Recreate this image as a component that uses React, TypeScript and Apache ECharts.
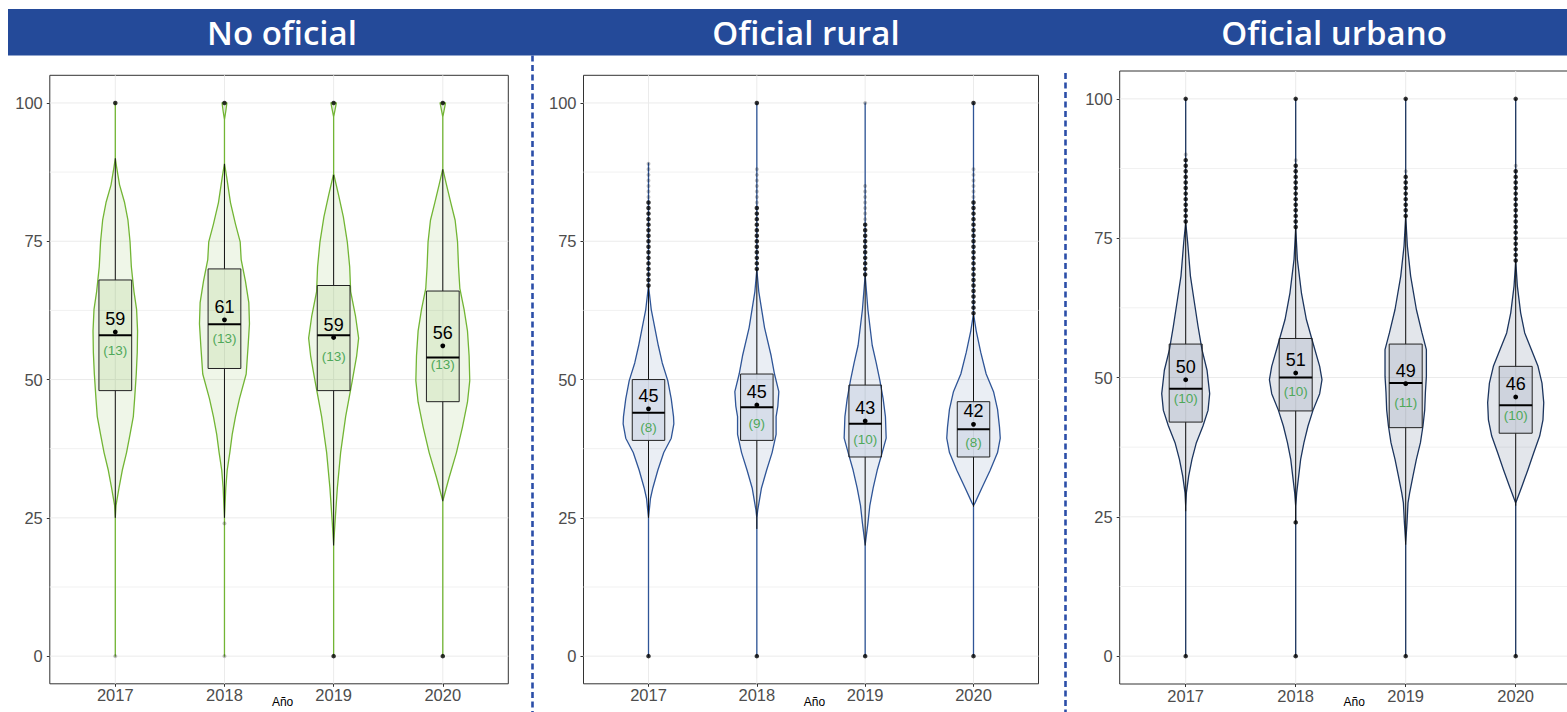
import React, { useEffect, useRef } from "react";
import * as echarts from "echarts";

const years = ["2017", "2018", "2019", "2020"];
const panelTitles = ["No oficial", "Oficial rural", "Oficial urbano"];
const yTicks = [0, 25, 50, 75, 100];
const yMinorTicks = [12.5, 37.5, 62.5, 87.5];
const xAxisTitle = "Año";

// ---------- No oficial ----------
// [bigote inferior, Q1, mediana, Q3, bigote superior]
const noOficialBox = [
  [25, 48, 58, 68, 90],
  [25, 52, 60, 70, 89],
  [20, 48, 58, 67, 87],
  [28, 46, 54, 66, 88],
];
const noOficialMean = [58.6, 60.8, 57.6, 56.1];
const noOficialMeanLabel = ["59", "61", "59", "56"];
const noOficialSdLabel = ["(13)", "(13)", "(13)", "(13)"];
const noOficialPoints = [[100], [100], [100, 0], [100, 0]];
const noOficialFaintPoints = [[0], [24, 0], [], []];
// violin profile: [valor, semiancho (en unidades de categoría)]
const noOficialViolin2017 = [[100, 0], [90, 0], [88.4, 0.012], [85.2, 0.039], [82, 0.085], [78.8, 0.116], [74.9, 0.135], [70.4, 0.147], [65.9, 0.171], [62.7, 0.195], [58.8, 0.204], [54.9, 0.201], [51, 0.192], [46.5, 0.177], [43.3, 0.165], [40.1, 0.135], [36.8, 0.103], [33.6, 0.064], [30.4, 0.034], [27.2, 0.006], [25, 0], [0, 0]];
const noOficialViolin2018 = [[100, 0.022], [98.5, 0.012], [97, 0], [89.1, 0], [86.5, 0.021], [82, 0.055], [78.1, 0.101], [74.9, 0.144], [71.7, 0.153], [67.8, 0.192], [63.9, 0.223], [60.1, 0.229], [56.2, 0.217], [51, 0.199], [46.5, 0.137], [43.3, 0.101], [40.1, 0.071], [36.8, 0.049], [33.6, 0.025], [30.4, 0.012], [25, 0], [0, 0]];
const noOficialViolin2019 = [[100, 0.025], [98.5, 0.01], [97.5, 0], [87.2, 0], [83.3, 0.046], [79.4, 0.089], [74.9, 0.125], [70.4, 0.147], [65.9, 0.156], [61.4, 0.201], [57.5, 0.229], [54.3, 0.211], [49.8, 0.171], [43.3, 0.11], [36.8, 0.064], [30.4, 0.034], [24, 0.012], [20.1, 0], [0, 0]];
const noOficialViolin2020 = [[100, 0.025], [98.5, 0.01], [97.5, 0], [88.1, 0], [85.2, 0.034], [82, 0.073], [78.8, 0.113], [74.9, 0.135], [70.4, 0.144], [66.5, 0.156], [62.7, 0.195], [58.8, 0.226], [54.3, 0.241], [49.8, 0.247], [45.9, 0.226], [41.4, 0.18], [36.8, 0.125], [32.3, 0.058], [28.5, 0.006], [28.1, 0], [0, 0]];

// ---------- Oficial rural ----------
const ruralBox = [
  [25, 39, 44, 50, 67],
  [23, 39, 45, 51, 70],
  [20, 36, 42, 49, 69],
  [27, 36, 41, 46, 62],
];
const ruralMean = [44.7, 45.4, 42.5, 41.9];
const ruralMeanLabel = ["45", "45", "43", "42"];
const ruralSdLabel = ["(8)", "(9)", "(10)", "(8)"];
const ruralPoints = [
  [67, 68, 69, 70, 71, 72, 73, 74, 75, 76, 77, 78, 79, 80, 81, 82, 0],
  [70, 71, 72, 73, 74, 75, 76, 77, 78, 79, 80, 81, 100, 0],
  [69, 70, 71, 72, 73, 74, 75, 76, 77, 78, 0],
  [62, 63, 64, 65, 66, 67, 68, 69, 70, 71, 72, 73, 74, 75, 76, 77, 78, 79, 80, 81, 82, 100, 0],
];
const ruralFaintPoints = [
  [83, 84, 85, 86, 87, 88, 89],
  [82, 83, 84, 85, 86, 87, 88],
  [79, 80, 81, 82, 83, 84, 85, 100],
  [83, 84, 85, 86, 87, 88],
];
const ruralViolin2017 = [[89.1, 0], [67, 0], [62.7, 0.025], [56.2, 0.09], [53, 0.127], [49.8, 0.178], [46.5, 0.21], [43.3, 0.231], [42, 0.234], [39.4, 0.21], [36.8, 0.141], [33.6, 0.086], [30.4, 0.04], [28.5, 0.018], [25, 0], [0, 0]];
const ruralViolin2018 = [[100, 0], [69.9, 0], [65.9, 0.018], [59.4, 0.071], [54.3, 0.132], [51, 0.163], [47.8, 0.203], [45.2, 0.194], [43.3, 0.178], [40.1, 0.178], [36.8, 0.141], [33.6, 0.09], [30.4, 0.043], [26.5, 0.009], [25, 0], [0, 0]];
const ruralViolin2019 = [[100, 0], [68.9, 0], [62.7, 0.025], [56.2, 0.065], [53, 0.102], [49.8, 0.136], [46.5, 0.166], [43.3, 0.187], [39.4, 0.194], [36.8, 0.157], [33.6, 0.111], [30.4, 0.074], [27.2, 0.043], [24, 0.025], [20.1, 0], [0, 0]];
const ruralViolin2020 = [[100, 0], [61.9, 0], [58.8, 0.025], [54.9, 0.067], [51, 0.117], [47.8, 0.185], [44.6, 0.222], [41.4, 0.24], [39.4, 0.247], [36.8, 0.222], [33.6, 0.154], [30.4, 0.077], [27.8, 0.016], [27.2, 0], [0, 0]];

// ---------- Oficial urbano ----------
const urbanoBox = [
  [26, 42, 48, 56, 78],
  [24, 44, 50, 57, 77],
  [20, 41, 49, 56, 79],
  [27, 40, 45, 52, 71],
];
const urbanoMean = [49.6, 50.8, 48.9, 46.5];
const urbanoMeanLabel = ["50", "51", "49", "46"];
const urbanoSdLabel = ["(10)", "(10)", "(11)", "(10)"];
const urbanoPoints = [
  [78, 79, 80, 81, 82, 83, 84, 85, 86, 87, 88, 89, 100, 0],
  [77, 78, 79, 80, 81, 82, 83, 84, 85, 86, 87, 88, 100, 24, 0],
  [79, 80, 81, 82, 83, 84, 85, 86, 100, 0],
  [71, 72, 73, 74, 75, 76, 77, 78, 79, 80, 81, 82, 83, 84, 85, 86, 87, 100, 0],
];
const urbanoFaintPoints = [[90], [89], [87], [88]];
const urbanoViolin2017 = [[100, 0], [77.9, 0], [74.2, 0.018], [68.2, 0.043], [64, 0.075], [59.2, 0.112], [55, 0.148], [51.3, 0.194], [47.1, 0.218], [44.1, 0.203], [41.3, 0.157], [38.3, 0.097], [35.3, 0.057], [32.3, 0.027], [29.3, 0.006], [26.9, 0], [0, 0]];
const urbanoViolin2018 = [[100, 0], [76.9, 0], [71.2, 0.015], [65.2, 0.052], [60.4, 0.097], [56.2, 0.157], [52, 0.218], [49.6, 0.239], [47.1, 0.218], [44.1, 0.157], [41.3, 0.112], [38.3, 0.075], [35.3, 0.045], [32.3, 0.027], [29.3, 0.009], [26.9, 0], [0, 0]];
const urbanoViolin2019 = [[100, 0], [79, 0], [73.6, 0.015], [68.2, 0.045], [62.2, 0.097], [58, 0.148], [55, 0.188], [50.2, 0.188], [47.3, 0.179], [44.2, 0.173], [41.3, 0.157], [38.3, 0.134], [35.3, 0.097], [32.3, 0.066], [29.3, 0.036], [27.5, 0.021], [24, 0.012], [20.3, 0], [0, 0]];
const urbanoViolin2020 = [[100, 0], [71, 0], [66.4, 0.015], [61.6, 0.045], [58, 0.082], [55, 0.143], [52, 0.203], [49, 0.239], [45.5, 0.255], [42.4, 0.248], [39.5, 0.218], [36.5, 0.164], [33.5, 0.112], [30.5, 0.057], [28.1, 0.012], [27.5, 0], [0, 0]];

// ---------- styles / layout ----------
const FONT = "'Liberation Sans', Arial, sans-serif";
const panels = [
  {
    violins: [noOficialViolin2017, noOficialViolin2018, noOficialViolin2019, noOficialViolin2020],
    box: noOficialBox, mean: noOficialMean, meanLabel: noOficialMeanLabel, sdLabel: noOficialSdLabel,
    points: noOficialPoints, faint: noOficialFaintPoints,
    stroke: "#72B534", violinFill: "rgba(107,175,47,0.11)", boxFill: "rgba(107,175,47,0.12)",
    grid: { left: 49.8, top: 75.3, width: 458.5, height: 608.5 },
    titleX: 282,
  },
  {
    violins: [ruralViolin2017, ruralViolin2018, ruralViolin2019, ruralViolin2020],
    box: ruralBox, mean: ruralMean, meanLabel: ruralMeanLabel, sdLabel: ruralSdLabel,
    points: ruralPoints, faint: ruralFaintPoints,
    stroke: "#2F5597", violinFill: "rgba(47,85,151,0.1)", boxFill: "rgba(47,85,151,0.1)",
    grid: { left: 583.5, top: 75.3, width: 455, height: 608.5 },
    titleX: 806,
  },
  {
    violins: [urbanoViolin2017, urbanoViolin2018, urbanoViolin2019, urbanoViolin2020],
    box: urbanoBox, mean: urbanoMean, meanLabel: urbanoMeanLabel, sdLabel: urbanoSdLabel,
    points: urbanoPoints, faint: urbanoFaintPoints,
    stroke: "#1C355E", violinFill: "rgba(28,53,94,0.12)", boxFill: "rgba(28,53,94,0.1)",
    grid: { left: 1119.7, top: 71, width: 462, height: 613 },
    titleX: 1334,
  },
];

const X_MIN = -0.6;
const X_MAX = 3.6;

function buildOption() {
  const grid: any[] = [];
  const xAxis: any[] = [];
  const yAxis: any[] = [];
  const series: any[] = [];

  panels.forEach((p, k) => {
    grid.push({ ...p.grid, show: true, borderColor: "#333333", borderWidth: 1, backgroundColor: "transparent", containLabel: false, outerBoundsMode: "none" });
    xAxis.push({
      type: "value", gridIndex: k, min: X_MIN, max: X_MAX, position: "bottom",
      axisLine: { show: false, onZero: false },
      axisTick: { show: true, customValues: years.map((_, i) => i), length: 3, lineStyle: { color: "#333333" } },
      axisLabel: { customValues: years.map((_, i) => i), formatter: (v: number) => years[Math.round(v)], color: "#4D4D4D", fontSize: 16.5, fontFamily: FONT, margin: 3 },
      splitLine: { show: false },
      name: xAxisTitle, nameLocation: "middle", nameGap: 12, nameMoveOverlap: false,
      nameTextStyle: { fontSize: 12, color: "#000000", fontFamily: FONT, verticalAlign: "top", padding: [0, 0, 0, 7] },
    });
    yAxis.push({
      type: "value", gridIndex: k, min: -5, max: 105, position: "left",
      axisLine: { show: false, onZero: false },
      axisTick: { show: true, customValues: yTicks, length: 3, lineStyle: { color: "#333333" } },
      axisLabel: { customValues: yTicks, color: "#4D4D4D", fontSize: 16.5, fontFamily: FONT, margin: 7 },
      splitLine: { show: false },
    });

    // grid lines (major + minor horizontal, vertical per category)
    const gridLines: any[] = [
      ...yMinorTicks.map((v) => ({ value: [0, v], kind: "hMinor" })),
      ...yTicks.map((v) => ({ value: [0, v], kind: "h" })),
      ...years.map((_, i) => ({ value: [i, 0], kind: "v" })),
    ];
    series.push({
      type: "custom", xAxisIndex: k, yAxisIndex: k, z: 1, silent: true,
      data: gridLines.map((g) => g.value),
      renderItem: (params: any, api: any) => {
        const g = gridLines[params.dataIndex];
        if (g.kind === "v") {
          const a = api.coord([g.value[0], -5]);
          const b = api.coord([g.value[0], 105]);
          return { type: "line", shape: { x1: a[0], y1: a[1], x2: b[0], y2: b[1] }, style: { stroke: "#EBEBEB", lineWidth: 1 } };
        }
        const a = api.coord([X_MIN, g.value[1]]);
        const b = api.coord([X_MAX, g.value[1]]);
        return { type: "line", shape: { x1: a[0], y1: a[1], x2: b[0], y2: b[1] }, style: { stroke: g.kind === "h" ? "#EBEBEB" : "#F1F1F1", lineWidth: 1 } };
      },
    });

    // violins
    series.push({
      type: "custom", xAxisIndex: k, yAxisIndex: k, z: 2, silent: true,
      data: years.map((_, i) => [i, 50]),
      renderItem: (params: any, api: any) => {
        const i = params.dataIndex;
        const prof = p.violins[i];
        const right = prof.map(([v, w]) => api.coord([i + w, v]));
        const left = prof.slice().reverse().map(([v, w]) => api.coord([i - w, v]));
        return { type: "polygon", shape: { points: right.concat(left) }, style: { fill: p.violinFill, stroke: p.stroke, lineWidth: 1.3, lineJoin: "round" } };
      },
    });

    // boxes + whiskers
    series.push({
      type: "custom", xAxisIndex: k, yAxisIndex: k, z: 3, silent: true,
      data: years.map((_, i) => [i, p.box[i][2]]),
      renderItem: (params: any, api: any) => {
        const i = params.dataIndex;
        const [lo, q1, med, q3, hi] = p.box[i];
        const hw = 0.15;
        const tl = api.coord([i - hw, q3]);
        const br = api.coord([i + hw, q1]);
        const x = api.coord([i, 0])[0];
        const yLo = api.coord([i, lo])[1];
        const yHi = api.coord([i, hi])[1];
        const yQ1 = br[1];
        const yQ3 = tl[1];
        const yMed = api.coord([i, med])[1];
        return {
          type: "group",
          children: [
            { type: "line", shape: { x1: x, y1: yHi, x2: x, y2: yQ3 }, style: { stroke: "#111111", lineWidth: 1, lineCap: "butt" } },
            { type: "line", shape: { x1: x, y1: yQ1, x2: x, y2: yLo }, style: { stroke: "#111111", lineWidth: 1, lineCap: "butt" } },
            { type: "rect", shape: { x: tl[0], y: tl[1], width: br[0] - tl[0], height: br[1] - tl[1] }, style: { fill: p.boxFill, stroke: "#222222", lineWidth: 1 } },
            { type: "line", shape: { x1: tl[0], y1: yMed, x2: br[0], y2: yMed }, style: { stroke: "#000000", lineWidth: 2 } },
          ],
        };
      },
    });

    // outliers
    const faintData: number[][] = [];
    p.faint.forEach((arr, i) => arr.forEach((v) => faintData.push([i, v])));
    const solidData: number[][] = [];
    p.points.forEach((arr, i) => arr.forEach((v) => solidData.push([i, v])));
    series.push({
      type: "scatter", xAxisIndex: k, yAxisIndex: k, z: 4, silent: true,
      data: faintData, symbol: "circle", symbolSize: 4,
      itemStyle: { color: "rgba(0,0,0,0.3)" },
    });
    series.push({
      type: "scatter", xAxisIndex: k, yAxisIndex: k, z: 4, silent: true,
      data: solidData, symbol: "circle", symbolSize: 4.5,
      itemStyle: { color: "#000000" },
    });

    // means + labels
    series.push({
      type: "custom", xAxisIndex: k, yAxisIndex: k, z: 5, silent: true,
      data: years.map((_, i) => [i, p.mean[i]]),
      renderItem: (params: any, api: any) => {
        const i = params.dataIndex;
        const c = api.coord([i, p.mean[i]]);
        return {
          type: "group",
          children: [
            { type: "circle", shape: { cx: c[0], cy: c[1], r: 2.4 }, style: { fill: "#000000" } },
            { type: "text", x: c[0], y: c[1] - 13, style: { text: p.meanLabel[i], fill: "#000000", font: `18px ${FONT}`, align: "center", verticalAlign: "middle" } },
            { type: "text", x: c[0], y: c[1] + 18.5, style: { text: p.sdLabel[i], fill: "#4FA85A", font: `13.5px ${FONT}`, align: "center", verticalAlign: "middle" } },
          ],
        };
      },
    });
  });

  const graphic: any[] = [
    { type: "rect", left: 8, top: 9, shape: { x: 0, y: 0, width: 1559, height: 46.5 }, style: { fill: "#244A99" }, silent: true, z: 10 },
    ...panels.map((p, k) => ({
      type: "text", x: p.titleX, y: 32, z: 11, silent: true,
      style: { text: panelTitles[k], fill: "#FFFFFF", font: "600 33px 'Open Sans', 'Noto Sans', sans-serif", align: "center", verticalAlign: "middle" },
    })),
    { type: "line", shape: { x1: 532.5, y1: 55.5, x2: 532.5, y2: 712 }, style: { stroke: "#2B4EA8", lineWidth: 2.6, lineDash: [6, 3.5] }, silent: true, z: 10 },
    { type: "line", shape: { x1: 1065.5, y1: 73, x2: 1065.5, y2: 712 }, style: { stroke: "#2B4EA8", lineWidth: 2.6, lineDash: [6, 3.5] }, silent: true, z: 10 },
  ];

  return {
    animation: false,
    backgroundColor: "#FFFFFF",
    grid, xAxis, yAxis, series, graphic,
  };
}

export default function App() {
  const ref = useRef<HTMLDivElement>(null);
  useEffect(() => {
    if (!ref.current) return;
    const chart = echarts.init(ref.current, null, { renderer: "svg" });
    chart.setOption(buildOption() as any);
    return () => chart.dispose();
  }, []);
  return <div ref={ref} style={{ position: "absolute", left: 0, top: 0, width: 1567, height: 712 }} />;
}
